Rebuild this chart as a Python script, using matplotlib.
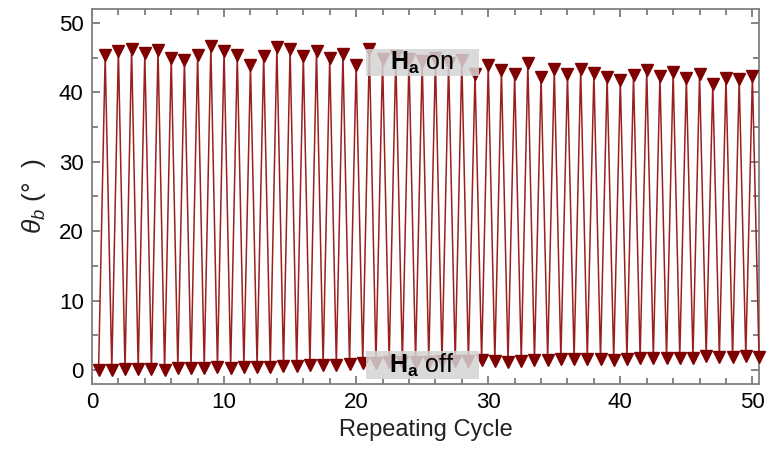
import numpy as np
import matplotlib
matplotlib.use("Agg")
import matplotlib.pyplot as plt
from matplotlib.patches import Rectangle
from matplotlib.ticker import MultipleLocator

plt.rcParams['font.family'] = ['Liberation Sans', 'DejaVu Sans']
plt.rcParams['mathtext.fontset'] = 'custom'
plt.rcParams['mathtext.rm'] = 'Liberation Sans'
plt.rcParams['mathtext.it'] = 'Liberation Sans:italic'
plt.rcParams['mathtext.bf'] = 'Liberation Sans:bold'

# angle with field on (cycles 1..50)
theta_on = [45.4, 46.0, 46.3, 45.6, 46.1, 45.0, 44.7, 45.4, 46.6, 45.9,
            45.4, 44.0, 45.3, 46.5, 46.2, 45.3, 46.0, 45.0, 45.5, 44.0,
            46.3, 44.8, 45.2, 44.8, 44.5, 44.9, 44.2, 44.6, 42.7, 43.9,
            43.2, 42.7, 44.2, 42.2, 43.3, 42.6, 43.4, 42.8, 42.2, 41.8,
            42.5, 43.2, 42.4, 42.9, 42.1, 42.6, 41.2, 42.1, 41.9, 42.3]
# angle with field off (half cycles 0.5..50.5)
theta_off = [0.0, 0.05, 0.1, 0.1, 0.15, 0.0, 0.3, 0.3, 0.35, 0.4,
             0.3, 0.45, 0.5, 0.5, 0.55, 0.6, 0.7, 0.75, 0.8, 0.85,
             1.0, 1.0, 1.1, 1.1, 1.2, 1.2, 1.25, 1.3, 1.3, 1.4,
             1.35, 1.2, 1.3, 1.4, 1.5, 1.55, 1.6, 1.6, 1.55, 1.5,
             1.6, 1.7, 1.8, 1.75, 1.8, 1.8, 2.0, 1.9, 1.85, 2.0, 1.95]

x_off = np.arange(len(theta_off)) + 0.5
x_on = np.arange(1, len(theta_on) + 1)

# interleave: off, on, off, on, ...
x = np.empty(len(x_off) + len(x_on))
y = np.empty_like(x)
x[0::2] = x_off
x[1::2] = x_on
y[0::2] = theta_off
y[1::2] = theta_on

fig = plt.figure(figsize=(7.69, 4.63), dpi=100)
ax = fig.add_axes([0.1196, 0.1706, 0.8674, 0.81])

ax.plot(x, y, color='#9a1f1f', lw=1.1, marker='v', ms=9,
        mfc='#7f0000', mec='#7f0000', clip_on=False, zorder=3)

ax.set_xlim(0, 50.5)
ax.set_ylim(-2, 52)
ax.xaxis.set_major_locator(MultipleLocator(10))
ax.xaxis.set_minor_locator(MultipleLocator(2))
ax.yaxis.set_major_locator(MultipleLocator(10))
ax.yaxis.set_minor_locator(MultipleLocator(5))
ax.tick_params(which='both', direction='in', top=True, right=True,
               color='#707070', width=1.2, labelsize=16, pad=6)
ax.tick_params(which='major', length=6)
ax.tick_params(which='minor', length=4)
for s in ax.spines.values():
    s.set_color('#808080')
    s.set_linewidth(1.3)

ax.set_xlabel('Repeating Cycle', fontsize=17, color='#222222')
ax.set_ylabel(r'$\theta_b$ (°  )', fontsize=19, color='#222222', labelpad=8)

# shaded label boxes
for yc, txt in [(44.3, r'$\mathbf{H_a}$ on'), (0.7, r'$\mathbf{H_a}$ off')]:
    ax.add_patch(Rectangle((25.0 - 4.28, yc - 2.0), 8.56, 4.0,
                           facecolor='#d4d4d4', edgecolor='none', alpha=0.85,
                           zorder=4, clip_on=False))
    ax.text(25.0, yc, txt, fontsize=18, ha='center', va='center',
            color='black', zorder=5)

fig.savefig('out.png', dpi=100)
